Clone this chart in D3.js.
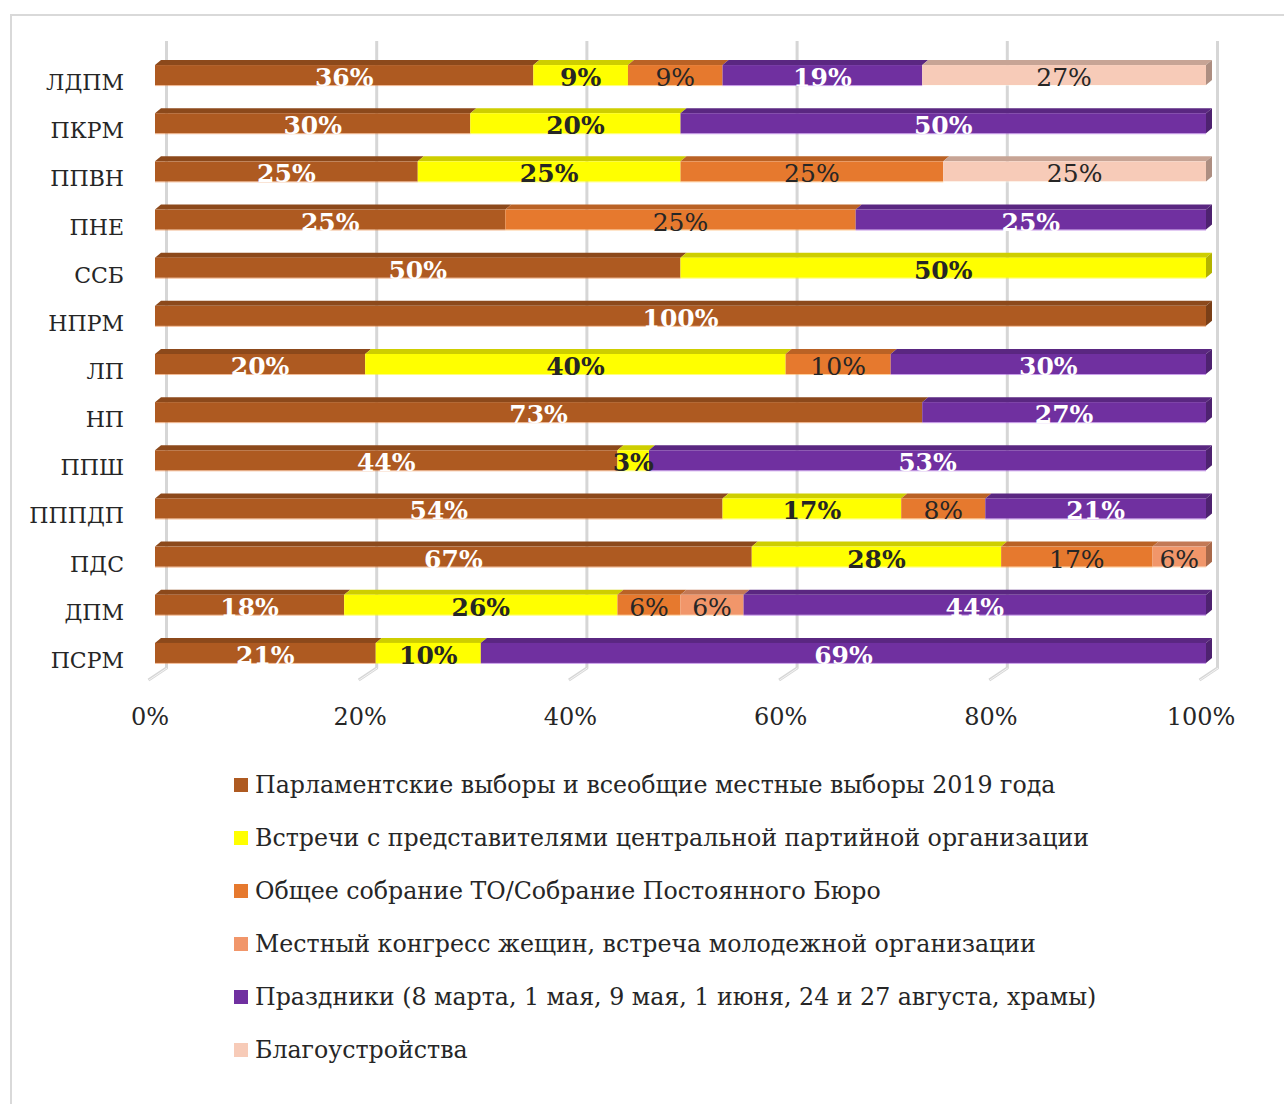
<!DOCTYPE html>
<html>
<head>
<meta charset="utf-8">
<script src="https://cdn.jsdelivr.net/npm/d3@7"></script>
<style>
  html, body { margin: 0; padding: 0; background: #fff; }
  svg { display: block; }
  text { font-family: "DejaVu Serif", "Liberation Serif", serif; fill: #262626; }
</style>
</head>
<body>
<svg id="chart" width="1284" height="1104"></svg>
<script>
// parties, top to bottom
var categories = ['ЛДПМ', 'ПКРМ', 'ППВН', 'ПНЕ', 'ССБ', 'НПРМ', 'ЛП', 'НП', 'ППШ', 'ПППДП', 'ПДС', 'ДПМ', 'ПСРМ'];

var seriesNames = [
  'Парламентские выборы и всеобщие местные выборы 2019 года',
  'Встречи с представителями центральной партийной организации',
  'Общее собрание ТО/Собрание Постоянного Бюро',
  'Местный конгресс жещин, встреча молодежной организации',
  'Праздники (8 марта, 1 мая, 9 мая, 1 июня, 24 и 27 августа, храмы)',
  'Благоустройства'
];

// percentages as labelled on the bars (0 = no segment)
var elections = [36, 30, 25, 25, 50, 100, 20, 73, 44, 54, 67, 18, 21];
var meetings  = [9, 20, 25, 0, 50, 0, 40, 0, 3, 17, 28, 26, 10];
var assembly  = [9, 0, 25, 25, 0, 0, 10, 0, 0, 8, 17, 6, 0];
var congress  = [0, 0, 0, 0, 0, 0, 0, 0, 0, 0, 6, 6, 0];
var holidays  = [19, 50, 0, 25, 0, 0, 30, 27, 53, 21, 0, 44, 69];
var improve   = [27, 0, 25, 0, 0, 0, 0, 0, 0, 0, 0, 0, 0];

var axisTicks = [0, 0.2, 0.4, 0.6, 0.8, 1];

var colors = ['#AE5A21', '#FFFF00', '#E6792E', '#F1966A', '#7030A0', '#F7CBB8'];
// label style per series: white bold, dark bold or dark plain
var labelFill = ['#ffffff', '#262626', '#262626', '#262626', '#ffffff', '#262626'];
var labelBold = [true, true, false, false, true, false];

var seriesValues = [elections, meetings, assembly, congress, holidays, improve];

var rows = categories.map(function (c, i) {
  var r = {category: c};
  seriesValues.forEach(function (vals, k) {
    r['s' + k] = vals[i];
  });
  return r;
});
var keys = seriesNames.map(function (d, k) { return 's' + k; });

// bars are normalised to the row total, labels keep the raw values
var stacked = d3.stack()
  .keys(keys)
  .offset(d3.stackOffsetExpand)(rows);

var svg = d3.select('#chart');

var depthX = 6,   // 3d bar depth
    depthY = 5,
    wallX = 11.5; // back wall offset of gridlines

var x = d3.scaleLinear().domain([0, 1]).range([155, 1206]);
var y = d3.scaleBand()
  .domain(categories)
  .range([51, 677])
  .paddingInner(0.584)
  .paddingOuter(0.292);

// chart frame
svg.append('rect')
  .attr('x', 11)
  .attr('y', 15)
  .attr('width', 1400)
  .attr('height', 1200)
  .attr('fill', 'none')
  .attr('stroke', '#d9d9d9')
  .attr('stroke-width', 2);

// back wall gridlines with floor diagonals
var grid = svg.append('g').attr('class', 'grid');
axisTicks.forEach(function (t) {
  var gx = x(t) + wallX;
  grid.append('path')
    .attr('d', 'M' + gx + ',41V668L' + (gx - 18) + ',680')
    .attr('fill', 'none')
    .attr('stroke', '#d6d6d6')
    .attr('stroke-width', 3)
    .attr('stroke-linejoin', 'round');
  grid.append('path')
    .attr('d', 'M' + (gx + 0.5) + ',668L' + (gx - 17.5) + ',680')
    .attr('fill', 'none')
    .attr('stroke', '#f4f4f4')
    .attr('stroke-width', 1);
});

// bars
var bars = svg.append('g').attr('class', 'bars');
stacked.forEach(function (layer, k) {
  var base = d3.color(colors[k]);
  var g = bars.append('g');
  layer.forEach(function (d) {
    if (d[1] - d[0] <= 0) {
      return;
    }
    var x0 = x(d[0]), x1 = x(d[1]),
        yt = y(d.data.category), h = y.bandwidth();
    // top face
    g.append('path')
      .attr('d', 'M' + x0 + ',' + yt + 'L' + (x0 + depthX) + ',' + (yt - depthY) +
        'H' + (x1 + depthX) + 'L' + x1 + ',' + yt + 'Z')
      .attr('fill', base.darker(0.6));
    // front face
    g.append('rect')
      .attr('x', x0)
      .attr('y', yt)
      .attr('width', x1 - x0)
      .attr('height', h)
      .attr('fill', base);
    // right face on the end of the bar
    if (d[1] > 0.999) {
      g.append('path')
        .attr('d', 'M' + x1 + ',' + yt + 'L' + (x1 + depthX) + ',' + (yt - depthY) +
          'V' + (yt + h - depthY) + 'L' + x1 + ',' + (yt + h) + 'Z')
        .attr('fill', base.darker(1));
    }
    // light lower edge
    g.append('line')
      .attr('x1', x0)
      .attr('x2', x1)
      .attr('y1', yt + h + 0.5)
      .attr('y2', yt + h + 0.5)
      .attr('stroke', base.brighter(0.8))
      .attr('stroke-opacity', 0.5)
      .attr('stroke-width', 1);
  });
});

// data labels
var labels = svg.append('g').attr('class', 'labels');
stacked.forEach(function (layer, k) {
  layer.forEach(function (d, i) {
    var v = seriesValues[k][i];
    if (!v) {
      return;
    }
    labels.append('text')
      .attr('x', (x(d[0]) + x(d[1])) / 2)
      .attr('y', y(d.data.category) + y.bandwidth() + 1)
      .attr('text-anchor', 'middle')
      .style('font-size', '25px')
      .style('font-weight', labelBold[k] ? 'bold' : 'normal')
      .style('fill', labelFill[k])
      .text(v + '%');
  });
});

// category axis
svg.append('g')
  .selectAll('text')
  .data(categories)
  .join('text')
    .attr('x', 124)
    .attr('y', function (c) { return y(c) + y.bandwidth() + 5; })
    .attr('text-anchor', 'end')
    .style('font-size', '22px')
    .text(function (c) { return c; });

// value axis
svg.append('g')
  .selectAll('text')
  .data(axisTicks)
  .join('text')
    .attr('x', function (t) { return x(t) - 5; })
    .attr('y', 725)
    .attr('text-anchor', 'middle')
    .style('font-size', '24px')
    .text(d3.format('.0%'));

// legend
var legend = svg.append('g')
  .selectAll('g')
  .data(seriesNames)
  .join('g')
    .attr('transform', function (d, k) { return 'translate(234,' + (785 + k * 53) + ')'; });

legend.append('rect')
  .attr('x', 0)
  .attr('y', -7)
  .attr('width', 14)
  .attr('height', 14)
  .attr('fill', function (d, k) { return colors[k]; });

legend.append('text')
  .attr('x', 21)
  .attr('y', 8)
  .style('font-size', '23.7px')
  .text(function (d) { return d; });
</script>
</body>
</html>
